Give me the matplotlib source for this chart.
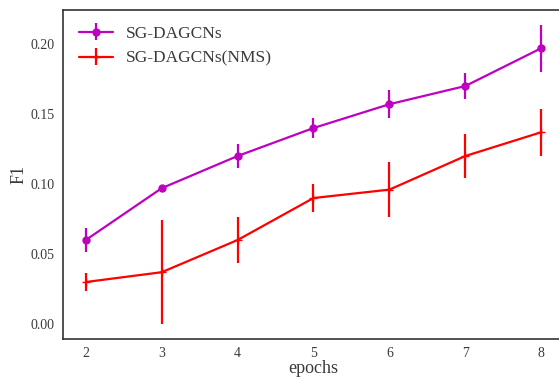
import numpy as np
import matplotlib
matplotlib.use("Agg")
import matplotlib.pyplot as plt

epochs = [2, 3, 4, 5, 6, 7, 8]
f1_sg = [0.060, 0.097, 0.120, 0.140, 0.157, 0.170, 0.197]
err_sg = [0.0087, 0.0015, 0.0083, 0.0068, 0.010, 0.009, 0.0167]
f1_nms = [0.030, 0.037, 0.060, 0.090, 0.096, 0.120, 0.137]
err_nms = [0.0065, 0.037, 0.0165, 0.010, 0.0195, 0.016, 0.0167]

plt.style.use("seaborn-v0_8-white")
plt.rcParams["font.family"] = ["Liberation Serif", "DejaVu Serif"]
plt.rcParams["text.color"] = "#3a3a3a"
plt.rcParams["axes.labelcolor"] = "#3a3a3a"
plt.rcParams["xtick.color"] = "#3a3a3a"
plt.rcParams["ytick.color"] = "#3a3a3a"

fig = plt.figure(figsize=(5.59, 3.81), dpi=100)
ax = fig.add_axes([63 / 559, 42 / 381, 501 / 559, 329 / 381])

ax.errorbar(epochs, f1_sg, yerr=err_sg, color="m", marker="o", markersize=5,
            linewidth=1.6, elinewidth=1.6, label="SG-DAGCNs")
ax.errorbar(epochs, f1_nms, yerr=err_nms, color="r", marker="+", markersize=6,
            linewidth=1.6, elinewidth=1.6, label="SG-DAGCNs(NMS)")

ax.set_xlim(1.7, 8.3)
ax.set_ylim(-0.0107, 0.2243)
ax.set_yticks([0.0, 0.05, 0.10, 0.15, 0.20])
ax.set_yticklabels(["0.00", "0.05", "0.10", "0.15", "0.20"])
ax.tick_params(labelsize=10)
ax.tick_params(axis="x", pad=6)
ax.tick_params(axis="y", pad=6)
ax.set_xlabel("epochs", fontsize=13, labelpad=0)
ax.set_ylabel("F1", fontsize=13, labelpad=2)
for s in ax.spines.values():
    s.set_color("#333333")
    s.set_linewidth(1.2)

ax.legend(loc="upper left", fontsize=12.5, frameon=False, handletextpad=0.7)

fig.savefig("out.png", dpi=100)
